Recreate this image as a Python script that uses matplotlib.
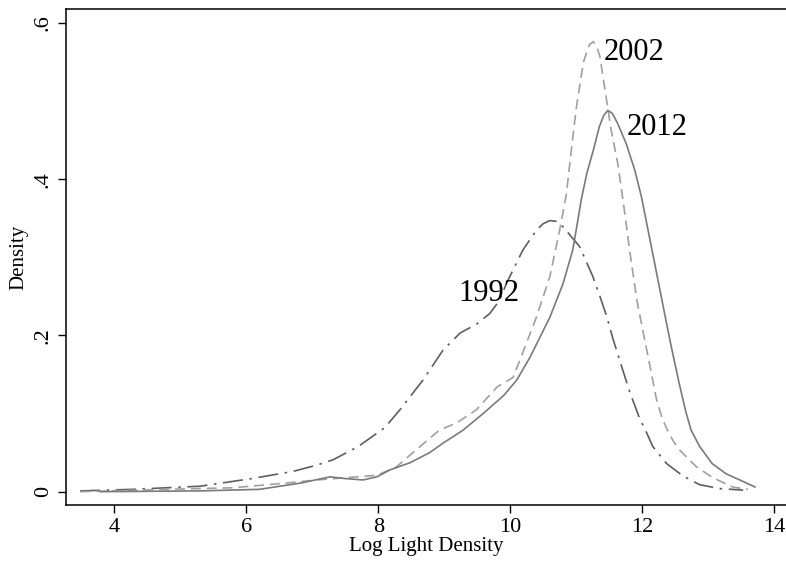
import numpy as np
import matplotlib.pyplot as plt

plt.rcParams['font.family'] = ['Liberation Serif', 'DejaVu Serif']

# Kernel density estimates of log light density, by year
x_1992 = [3.48, 4.28, 5.30, 6.10, 6.71, 7.07, 7.32, 7.70, 7.95, 8.10, 8.33, 8.68,
          8.98, 9.24, 9.50, 9.69, 9.84, 9.94, 10.19, 10.40, 10.50, 10.60, 10.70, 10.80,
          11.05, 11.25, 11.36, 11.46, 11.56, 11.66, 11.81, 11.96, 12.07, 12.16, 12.37,
          12.62, 12.87, 13.17, 13.53]
y_1992 = [0.001, 0.003, 0.007, 0.017, 0.026, 0.034, 0.041, 0.058, 0.073, 0.082, 0.105, 0.143,
          0.181, 0.203, 0.215, 0.228, 0.245, 0.266, 0.309, 0.335, 0.343, 0.347, 0.346, 0.339,
          0.314, 0.276, 0.250, 0.225, 0.195, 0.168, 0.128, 0.094, 0.075, 0.058, 0.036,
          0.020, 0.009, 0.004, 0.002]

x_2002 = [3.48, 4.80, 5.80, 6.06, 6.60, 7.07, 7.37, 7.98, 8.28, 8.58, 8.93, 9.19, 9.49,
          9.80, 10.04, 10.15, 10.40, 10.60, 10.75, 10.85, 10.93, 11.00, 11.11, 11.20,
          11.26, 11.31, 11.36, 11.43, 11.53, 11.63, 11.71, 11.81, 11.92, 12.02, 12.12,
          12.22, 12.30, 12.37, 12.47, 12.57, 12.82, 13.07, 13.37, 13.60]
y_2002 = [0.000, 0.003, 0.005, 0.007, 0.011, 0.015, 0.017, 0.021, 0.032, 0.054, 0.079, 0.088,
          0.105, 0.134, 0.146, 0.169, 0.224, 0.275, 0.335, 0.380, 0.440, 0.490, 0.550,
          0.572, 0.576, 0.570, 0.557, 0.518, 0.463, 0.420, 0.373, 0.309, 0.245, 0.202,
          0.160, 0.117, 0.095, 0.081, 0.065, 0.053, 0.032, 0.018, 0.006, 0.003]

x_2012 = [3.78, 5.30, 6.20, 6.82, 7.27, 7.47, 7.77, 7.98, 8.18, 8.48, 8.78, 8.98,
          9.29, 9.59, 9.90, 10.10, 10.30, 10.60, 10.80, 10.95, 11.08, 11.16, 11.26,
          11.35, 11.42, 11.48, 11.55, 11.63, 11.76, 11.89, 11.99, 12.15, 12.30, 12.43,
          12.56, 12.66, 12.74, 12.87, 13.06, 13.27, 13.48, 13.71]
y_2012 = [0.000, 0.001, 0.003, 0.011, 0.019, 0.017, 0.015, 0.019, 0.028, 0.037, 0.050, 0.062,
          0.079, 0.100, 0.123, 0.143, 0.172, 0.223, 0.266, 0.310, 0.375, 0.407, 0.437,
          0.467, 0.482, 0.488, 0.484, 0.471, 0.445, 0.411, 0.377, 0.309, 0.245, 0.190,
          0.139, 0.103, 0.079, 0.058, 0.036, 0.023, 0.015, 0.006]

x_ticks = [4, 6, 8, 10, 12, 14]
y_ticks = [0, 0.2, 0.4, 0.6]
y_ticklabels = ['0', '.2', '.4', '.6']

fig = plt.figure(figsize=(7.86, 5.65), dpi=100)
ax = fig.add_axes([0.084, 0.1057, 0.916, 0.878])

ax.plot(x_1992, y_1992, color='#5e5e5e', lw=1.2, dashes=(12, 4, 1.5, 4))
ax.plot(x_2002, y_2002, color='#a0a0a0', lw=1.2, dashes=(6, 3.5))
ax.plot(x_2012, y_2012, color='#7a7a7a', lw=1.2)

ax.text(11.41, 0.562, '2002', fontsize=22, va='center', ha='left')
ax.text(11.77, 0.466, '2012', fontsize=22, va='center', ha='left')
ax.text(9.22, 0.254, '1992', fontsize=22, va='center', ha='left')

ax.set_xlim(3.268, 14.18)
ax.set_ylim(-0.0174, 0.6175)
ax.set_xticks(x_ticks)
ax.set_yticks(y_ticks)
ax.set_yticklabels(y_ticklabels, rotation=90, va='center')
ax.tick_params(direction='out', length=5.5, width=1, labelsize=16, color='black')
ax.tick_params(axis='y', pad=4)

ax.spines['right'].set_visible(False)
for s in ['left', 'bottom', 'top']:
    ax.spines[s].set_linewidth(1.1)

ax.set_xlabel('Log Light Density', fontsize=15, labelpad=0)
ax.set_ylabel('Density', fontsize=15, labelpad=4)

fig.savefig('out.png', dpi=100)
